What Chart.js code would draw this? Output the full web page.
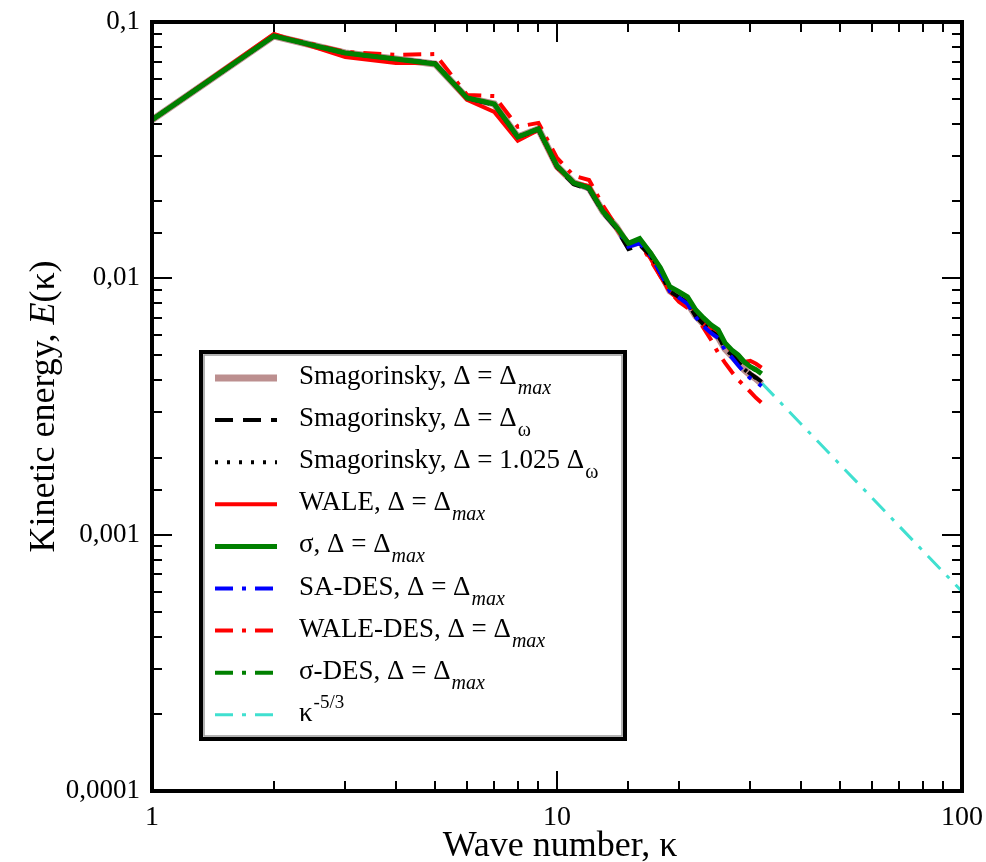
<!DOCTYPE html>
<html>
<head>
<meta charset="utf-8">
<title>Kinetic energy spectrum</title>
<script src="https://cdn.jsdelivr.net/npm/chart.js@4.4.1/dist/chart.umd.min.js"></script>
<style>
  html, body { margin: 0; padding: 0; background: #fff; }
  #wrap { width: 986px; height: 862px; }
</style>
</head>
<body>
<div id="wrap"><canvas id="spectrum" width="986" height="862"></canvas></div>
<script>
// wave numbers of the spectra
const waveNumber = [1, 2, 3, 4, 5, 6, 7, 8, 9, 10, 11, 12, 13, 14, 15, 16,
                    17, 18, 19, 20, 21, 22, 23, 24, 25, 26, 27, 28, 29, 30, 31, 32];

// E(k) per model
const smagMax = [0.0415, 0.0882, 0.0757, 0.0717, 0.0686, 0.0505, 0.0479, 0.0356, 0.0383, 0.0274, 0.0236, 0.0225,
                 0.0182, 0.0159, 0.0134, 0.0139, 0.0124, 0.0106, 0.00894, 0.00847, 0.00802, 0.00714, 0.00665, 0.00619,
                 0.00591, 0.00531, 0.00499, 0.00468, 0.00440, 0.00420, 0.00406, 0.00388];
const smagOmega = [0.0415, 0.0882, 0.0757, 0.0717, 0.0690, 0.0505, 0.0475, 0.0356, 0.0380, 0.0272, 0.0233, 0.0222,
                   0.0180, 0.0157, 0.0130, 0.0135, 0.0123, 0.0105, 0.00890, 0.00845, 0.00800, 0.00712, 0.00662, 0.00620,
                   0.00595, 0.00535, 0.00505, 0.00472, 0.00445, 0.00425, 0.00410, 0.00395];
const smagOmega1025 = [0.0415, 0.0882, 0.0757, 0.0717, 0.0690, 0.0505, 0.0477, 0.0356, 0.0381, 0.0273, 0.0234, 0.0223,
                       0.0181, 0.0158, 0.0132, 0.0137, 0.0124, 0.0106, 0.00892, 0.00846, 0.00801, 0.00713, 0.00664, 0.00620,
                       0.00593, 0.00533, 0.00502, 0.00470, 0.00442, 0.00422, 0.00408, 0.00392];
const wale = [0.0415, 0.0898, 0.0730, 0.0692, 0.0692, 0.0497, 0.0446, 0.0344, 0.0379, 0.0270, 0.0236, 0.0229,
              0.0182, 0.0157, 0.0134, 0.0138, 0.0120, 0.0102, 0.00886, 0.00825, 0.00818, 0.00734, 0.00677, 0.00641,
              0.00608, 0.00560, 0.00517, 0.00503, 0.00472, 0.00477, 0.00464, 0.00448];
const sigma = [0.0415, 0.0882, 0.0757, 0.0717, 0.0686, 0.0505, 0.0479, 0.0356, 0.0383, 0.0274, 0.0236, 0.0225,
               0.0182, 0.0159, 0.0137, 0.0143, 0.0126, 0.0110, 0.00927, 0.00886, 0.00847, 0.00754, 0.00701, 0.00659,
               0.00630, 0.00560, 0.00526, 0.00503, 0.00472, 0.00452, 0.00440, 0.00424];
const saDes = [0.0415, 0.0882, 0.0757, 0.0717, 0.0690, 0.0505, 0.0478, 0.0356, 0.0382, 0.0273, 0.0235, 0.0224,
               0.0181, 0.0158, 0.0133, 0.0137, 0.0123, 0.0105, 0.00890, 0.00840, 0.00795, 0.00706, 0.00650, 0.00612,
               0.00585, 0.00525, 0.00492, 0.00458, 0.00430, 0.00408, 0.00394, 0.00380];
const waleDes = [0.0415, 0.0890, 0.0764, 0.0744, 0.0750, 0.0519, 0.0514, 0.0390, 0.0404, 0.0295, 0.0251, 0.0242,
                 0.0192, 0.0160, 0.0138, 0.0137, 0.0118, 0.0102, 0.00886, 0.00810, 0.00767, 0.00714, 0.00641, 0.00576,
                 0.00512, 0.00468, 0.00432, 0.00402, 0.00381, 0.00361, 0.00342, 0.00327];
const sigmaDes = [0.0415, 0.0882, 0.0757, 0.0717, 0.0688, 0.0505, 0.0480, 0.0357, 0.0384, 0.0275, 0.0237, 0.0226,
                  0.0183, 0.0159, 0.0136, 0.0142, 0.0126, 0.0109, 0.00920, 0.00880, 0.00842, 0.00750, 0.00698, 0.00655,
                  0.00627, 0.00558, 0.00524, 0.00500, 0.00470, 0.00450, 0.00437, 0.00420];

// Kolmogorov slope reference
const slopeK = [32, 100];
const slopeE = [0.00391, 0.000600];

const xTickLabels = ['1', '10', '100'];
const yTickLabels = ['0,0001', '0,001', '0,01', '0,1'];

function pts(xs, ys) {
    return xs.map((x, i) => ({ x: x, y: ys[i] }));
}

const dashDot = [18, 9, 4, 9];

const datasets = [
    { label: 'Smagorinsky, Δ = Δmax', main: 'Smagorinsky, Δ = Δ', sub: 'max',
      data: pts(waveNumber, smagMax), borderColor: '#bc8f8f', borderWidth: 7, order: 8 },
    { label: 'Smagorinsky, Δ = Δω', main: 'Smagorinsky, Δ = Δ', sub: 'ω',
      data: pts(waveNumber, smagOmega), borderColor: '#000000', borderWidth: 4, borderDash: [18, 10], order: 4 },
    { label: 'Smagorinsky, Δ = 1.025 Δω', main: 'Smagorinsky, Δ = 1.025 Δ', sub: 'ω',
      data: pts(waveNumber, smagOmega1025), borderColor: '#000000', borderWidth: 4, borderDash: [3, 9], order: 3 },
    { label: 'WALE, Δ = Δmax', main: 'WALE, Δ = Δ', sub: 'max',
      data: pts(waveNumber, wale), borderColor: '#ff0000', borderWidth: 4, order: 6 },
    { label: 'σ, Δ = Δmax', main: 'σ, Δ = Δ', sub: 'max',
      data: pts(waveNumber, sigma), borderColor: '#008000', borderWidth: 5, order: 0 },
    { label: 'SA-DES, Δ = Δmax', main: 'SA-DES, Δ = Δ', sub: 'max',
      data: pts(waveNumber, saDes), borderColor: '#0000ff', borderWidth: 4, borderDash: dashDot, order: 2 },
    { label: 'WALE-DES, Δ = Δmax', main: 'WALE-DES, Δ = Δ', sub: 'max',
      data: pts(waveNumber, waleDes), borderColor: '#ff0000', borderWidth: 4, borderDash: dashDot, order: 5 },
    { label: 'σ-DES, Δ = Δmax', main: 'σ-DES, Δ = Δ', sub: 'max',
      data: pts(waveNumber, sigmaDes), borderColor: '#008000', borderWidth: 4, borderDash: dashDot, order: 1 },
    { label: 'κ^-5/3', main: 'κ', sup: '-5/3',
      data: pts(slopeK, slopeE), borderColor: '#40e0d0', borderWidth: 3, borderDash: dashDot, order: 9 }
];

datasets.forEach(ds => {
    ds.pointRadius = 0;
    ds.tension = 0;
    ds.fill = false;
    ds.borderCapStyle = 'butt';
});

const SERIF = '"Liberation Serif", "Times New Roman", serif';

function isDecade(v) {
    const l = Math.log10(v);
    return Math.abs(l - Math.round(l)) < 1e-6;
}

// frame, inward ticks, legend box and axis titles
const decorations = {
    id: 'decorations',
    afterDraw(chart) {
        const ctx = chart.ctx;
        const a = chart.chartArea;
        const xs = chart.scales.x;
        const ys = chart.scales.y;

        ctx.save();
        ctx.strokeStyle = '#000';

        // ticks on all four sides, pointing inward
        ctx.lineWidth = 2;
        xs.ticks.forEach(t => {
            const px = Math.round(xs.getPixelForValue(t.value));
            const len = isDecade(t.value) ? 20 : 10;
            ctx.beginPath();
            ctx.moveTo(px, a.bottom); ctx.lineTo(px, a.bottom - len);
            ctx.moveTo(px, a.top); ctx.lineTo(px, a.top + len);
            ctx.stroke();
        });
        ys.ticks.forEach(t => {
            const py = Math.round(ys.getPixelForValue(t.value));
            const len = isDecade(t.value) ? 20 : 10;
            ctx.beginPath();
            ctx.moveTo(a.left, py); ctx.lineTo(a.left + len, py);
            ctx.moveTo(a.right, py); ctx.lineTo(a.right - len, py);
            ctx.stroke();
        });

        ctx.lineWidth = 4;
        ctx.strokeRect(a.left, a.top, a.right - a.left, a.bottom - a.top);

        // legend box
        const bx = a.left + 49, by = a.top + 330, bw = 424, bh = 387;
        ctx.fillStyle = '#fff';
        ctx.fillRect(bx, by, bw, bh);
        ctx.lineWidth = 4;
        ctx.strokeStyle = '#000';
        ctx.strokeRect(bx, by, bw, bh);
        ctx.lineWidth = 1.5;
        ctx.strokeStyle = '#9a9a9a';
        ctx.strokeRect(bx + 3, by + 3, bw - 6, bh - 6);

        const rowH = 42.1;
        chart.data.datasets.forEach((ds, i) => {
            const cy = by + 26 + i * rowH;
            ctx.save();
            ctx.beginPath();
            ctx.strokeStyle = ds.borderColor;
            ctx.lineWidth = ds.borderWidth;
            ctx.setLineDash(ds.borderDash || []);
            ctx.lineCap = 'butt';
            ctx.moveTo(bx + 14, cy);
            ctx.lineTo(bx + 76, cy);
            ctx.stroke();
            ctx.restore();

            const tx = bx + 98;
            const base = cy + 6;
            ctx.fillStyle = '#000';
            ctx.textBaseline = 'alphabetic';
            ctx.textAlign = 'left';
            ctx.font = '27px ' + SERIF;
            ctx.fillText(ds.main, tx, base);
            const w = ctx.measureText(ds.main).width;
            if (ds.sub) {
                ctx.font = (ds.sub === 'max' ? 'italic ' : '') + '20px ' + SERIF;
                ctx.fillText(ds.sub, tx + w + 1, base + 10);
            }
            if (ds.sup) {
                ctx.font = '19px ' + SERIF;
                ctx.fillText(ds.sup, tx + w + 1, base - 13);
            }
        });

        // x axis title
        ctx.fillStyle = '#000';
        ctx.textAlign = 'center';
        ctx.textBaseline = 'alphabetic';
        ctx.font = '36px ' + SERIF;
        ctx.fillText('Wave number, κ', (a.left + a.right) / 2 + 3, 856);

        // y axis title, with italic E
        ctx.save();
        ctx.translate(54, (a.top + a.bottom) / 2);
        ctx.rotate(-Math.PI / 2);
        ctx.textAlign = 'left';
        const p1 = 'Kinetic energy, ', p2 = 'E', p3 = '(κ)';
        ctx.font = '36px ' + SERIF;
        const w1 = ctx.measureText(p1).width;
        const w3 = ctx.measureText(p3).width;
        ctx.font = 'italic 36px ' + SERIF;
        const w2 = ctx.measureText(p2).width;
        let x0 = -(w1 + w2 + w3) / 2;
        ctx.font = '36px ' + SERIF;
        ctx.fillText(p1, x0, 0);
        ctx.font = 'italic 36px ' + SERIF;
        ctx.fillText(p2, x0 + w1, 0);
        ctx.font = '36px ' + SERIF;
        ctx.fillText(p3, x0 + w1 + w2, 0);
        ctx.restore();

        ctx.restore();
    }
};

new Chart(document.getElementById('spectrum'), {
    type: 'line',
    data: { datasets: datasets },
    options: {
        responsive: false,
        animation: false,
        events: [],
        layout: { padding: { top: 22, right: 24, left: 0, bottom: 0 } },
        plugins: {
            legend: { display: false },
            tooltip: { enabled: false }
        },
        scales: {
            x: {
                type: 'logarithmic',
                position: 'bottom',
                min: 1,
                max: 100,
                grid: { display: false, drawTicks: false },
                border: { display: false },
                ticks: {
                    autoSkip: false,
                    maxRotation: 0,
                    padding: 10,
                    color: '#000',
                    font: { family: SERIF, size: 28 },
                    callback: function(v) {
                        if (!isDecade(v)) return '';
                        return xTickLabels[Math.round(Math.log10(v))];
                    }
                },
                afterFit: function(s) {
                    s.height = 71;
                    s.paddingLeft = 0;
                    s.paddingRight = 0;
                }
            },
            y: {
                type: 'logarithmic',
                position: 'left',
                min: 0.0001,
                max: 0.1,
                grid: { display: false, drawTicks: false },
                border: { display: false },
                ticks: {
                    autoSkip: false,
                    padding: 12,
                    color: '#000',
                    font: { family: SERIF, size: 27 },
                    callback: function(v) {
                        if (!isDecade(v)) return '';
                        return yTickLabels[Math.round(Math.log10(v)) + 4];
                    }
                },
                afterFit: function(s) {
                    s.width = 152;
                    s.paddingTop = 0;
                    s.paddingBottom = 0;
                }
            }
        }
    },
    plugins: [decorations]
});
</script>
</body>
</html>
